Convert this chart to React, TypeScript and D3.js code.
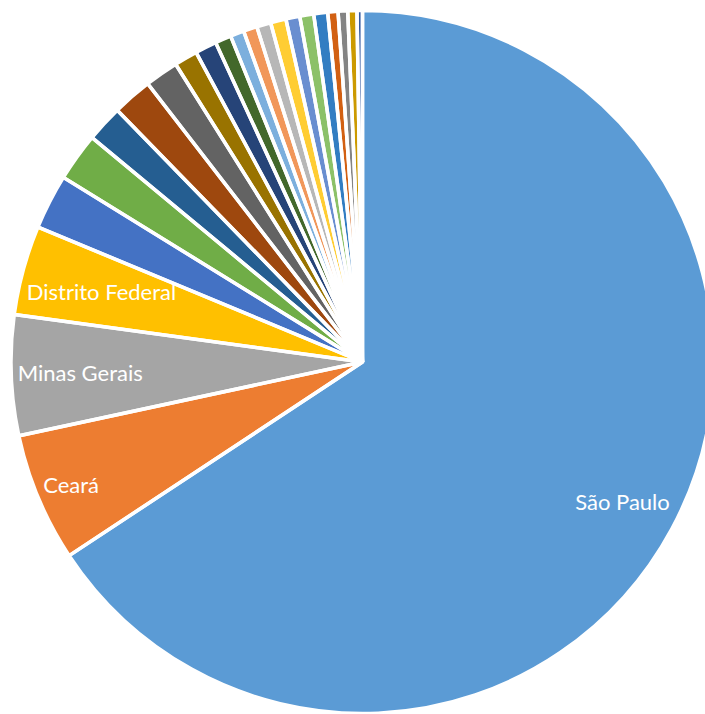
import React from 'react';
import * as d3 from 'd3';

const categories = [
  'São Paulo', 'Ceará', 'Minas Gerais', 'Distrito Federal', 'Rio de Janeiro',
  'Rio Grande do Sul', 'Paraná', 'Bahia', 'Pernambuco', 'Santa Catarina',
  'Goiás', 'Pará', 'Amazonas', 'Espírito Santo', 'Maranhão',
  'Rio Grande do Norte', 'Paraíba', 'Mato Grosso', 'Mato Grosso do Sul', 'Alagoas',
  'Piauí', 'Sergipe', 'Tocantins',
];
const values = [
  65.72, 5.92, 5.53, 4.11, 2.53,
  2.22, 1.69, 1.83, 1.54, 1.07,
  0.99, 0.74, 0.63, 0.63, 0.65,
  0.71, 0.64, 0.64, 0.64, 0.47,
  0.44, 0.42, 0.25,
];
const colors = [
  '#5B9BD5', '#ED7D31', '#A5A5A5', '#FFC000', '#4472C4', '#70AD47',
  '#255E91', '#9E480E', '#636363', '#997300', '#264478', '#43682B',
  '#7CAFDD', '#F1975A', '#B7B7B7', '#FFCD33', '#698ED0', '#8CC168',
  '#327DC2', '#D26012', '#848484', '#CC9A00', '#335AA1',
];
const labelled = ['São Paulo', 'Ceará', 'Minas Gerais', 'Distrito Federal'];

const W = 705;
const H = 714;
const CX = 362.5;
const CY = 362;
const R = 351.5;
const FONT_SIZE = 22;
const FONT = 'Lato';

type Datum = { name: string; value: number; color: string };

function measure(text: string): number {
  const c = document.createElement('canvas');
  const ctx = c.getContext('2d');
  if (!ctx) return text.length * FONT_SIZE * 0.5;
  ctx.font = `${FONT_SIZE}px ${FONT}`;
  return ctx.measureText(text).width;
}

export default function App() {
  const data: Datum[] = categories.map((name, i) => ({ name, value: values[i], color: colors[i] }));
  const pie = d3.pie<Datum>().value((d) => d.value).sort(null).startAngle(0).endAngle(2 * Math.PI);
  const arcs = pie(data);
  const arc = d3.arc<d3.PieArcDatum<Datum>>().innerRadius(0).outerRadius(R);

  const labels = arcs
    .filter((a) => labelled.includes(a.data.name))
    .map((a) => {
      const theta = (a.startAngle + a.endAngle) / 2;
      const w = measure(a.data.name);
      const h = FONT_SIZE * 0.85;
      const pad = 6;
      const large = a.endAngle - a.startAngle > Math.PI;
      let r = large ? R * 0.84 : R;
      const fits = (rr: number) => {
        const x = Math.sin(theta) * rr;
        const y = -Math.cos(theta) * rr;
        for (const sx of [-1, 1]) {
          for (const sy of [-1, 1]) {
            const px = x + (sx * w) / 2;
            const py = y + (sy * h) / 2;
            if (Math.hypot(px, py) > R - pad) return false;
          }
        }
        return true;
      };
      while (r > 0 && !fits(r)) r -= 0.5;
      return { name: a.data.name, x: Math.sin(theta) * r, y: -Math.cos(theta) * r };
    });

  return (
    <svg
      width={W}
      height={H}
      style={{ position: 'absolute', left: 0, top: 0, display: 'block', background: '#fff' }}
    >
      <g transform={`translate(${CX},${CY})`}>
        {arcs.map((a, i) => (
          <path key={`f${i}`} d={arc(a) || ''} fill={a.data.color} />
        ))}
        {arcs.map((a, i) => (
          <path key={`s${i}`} d={arc(a) || ''} fill="none" stroke="#fff" strokeWidth={3.5} />
        ))}
        {labels.map((l) => (
          <text
            key={l.name}
            x={l.x}
            y={l.y}
            textAnchor="middle"
            dominantBaseline="central"
            fill="#fff"
            fontFamily={FONT}
            fontSize={FONT_SIZE}
          >
            {l.name}
          </text>
        ))}
      </g>
    </svg>
  );
}
